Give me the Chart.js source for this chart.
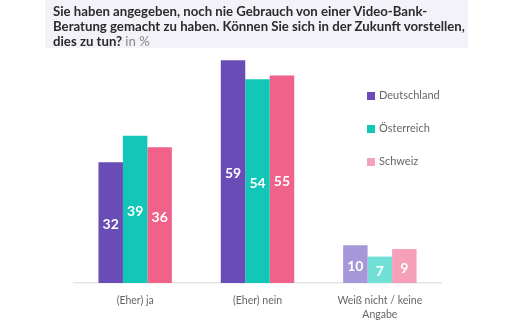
<!DOCTYPE html>
<html>
<head>
<meta charset="utf-8">
<script src="https://cdn.jsdelivr.net/npm/chart.js@4.4.1/dist/chart.umd.min.js"></script>
<style>
  body { margin: 0; background: #fff; font-family: Lato, sans-serif; }
  #wrap { position: relative; width: 516px; height: 323px; }
  #title {
    position: absolute; left: 45px; top: 0; width: 415px; height: 44px;
    padding: 4px 0 0 8px; background: #f4f2f9; white-space: nowrap;
    font-size: 13.2px; font-weight: bold; line-height: 15px; color: #2b2b2b;
  }
  #title span { font-weight: normal; color: #888; }
  #legend { position: absolute; left: 367px; top: 88px; }
  .item { height: 33px; font-size: 11px; color: #666; display: flex; align-items: flex-start; }
  .box { width: 8px; height: 8px; margin: 4px 4px 0 0; }
</style>
</head>
<body>
<div id="wrap">
  <canvas id="chart" width="516" height="323"></canvas>
  <div id="title">Sie haben angegeben, noch nie Gebrauch von einer Video-Bank-<br>Beratung gemacht zu haben. Können Sie sich in der Zukunft vorstellen,<br>dies zu tun? <span>in %</span></div>
  <div id="legend"></div>
</div>
<script>
const categories = [["(Eher) ja"], ["(Eher) nein"], ["Weiß nicht / keine", "Angabe"]];
const seriesNames = ["Deutschland", "Österreich", "Schweiz"];
const deutschland = [32, 59, 10];
const oesterreich = [39, 54, 7];
const schweiz = [36, 55, 9];

const colors = ["#6a4cb6", "#12c7b7", "#f0628a"];
const fadedColors = ["#a597d8", "#72e0d6", "#f69fb8"];
const legendColors = ["#6a4cb6", "#12c7b7", "#f4a3bb"];

const values = [deutschland, oesterreich, schweiz];

const legend = document.getElementById("legend");
seriesNames.forEach((name, i) => {
  const row = document.createElement("div");
  row.className = "item";
  row.innerHTML = `<div class="box" style="background:${legendColors[i]}"></div>${name}`;
  legend.appendChild(row);
});

const barLabels = {
  id: "barLabels",
  afterDatasetsDraw(chart) {
    const ctx = chart.ctx;
    ctx.save();
    ctx.fillStyle = "#fff";
    ctx.font = "bold 14px Lato";
    ctx.textAlign = "center";
    ctx.textBaseline = "middle";
    chart.data.datasets.forEach((ds, i) => {
      chart.getDatasetMeta(i).data.forEach((bar, j) => {
        ctx.fillText(ds.data[j], bar.x, (bar.y + bar.base) / 2 + 2);
      });
    });
    ctx.restore();
  }
};

new Chart(document.getElementById("chart"), {
  type: "bar",
  data: {
    labels: categories,
    datasets: seriesNames.map((name, i) => ({
      label: name,
      data: values[i],
      backgroundColor: [colors[i], colors[i], fadedColors[i]],
      categoryPercentage: 0.6,
      barPercentage: 1
    }))
  },
  options: {
    responsive: false,
    animation: false,
    layout: { padding: { top: 49, left: 74, right: 75, bottom: 0 } },
    plugins: { legend: { display: false }, tooltip: { enabled: false } },
    scales: {
      x: {
        afterFit(scale) { scale.height = 40; },
        grid: { display: false },
        border: { color: "#e6e6e6", width: 1.5 },
        ticks: { color: "#666", font: { family: "Lato", size: 10.5, lineHeight: 1.4 }, padding: 2 }
      },
      y: { display: false, min: 0, max: 62 }
    }
  },
  plugins: [barLabels]
});
</script>
</body>
</html>
